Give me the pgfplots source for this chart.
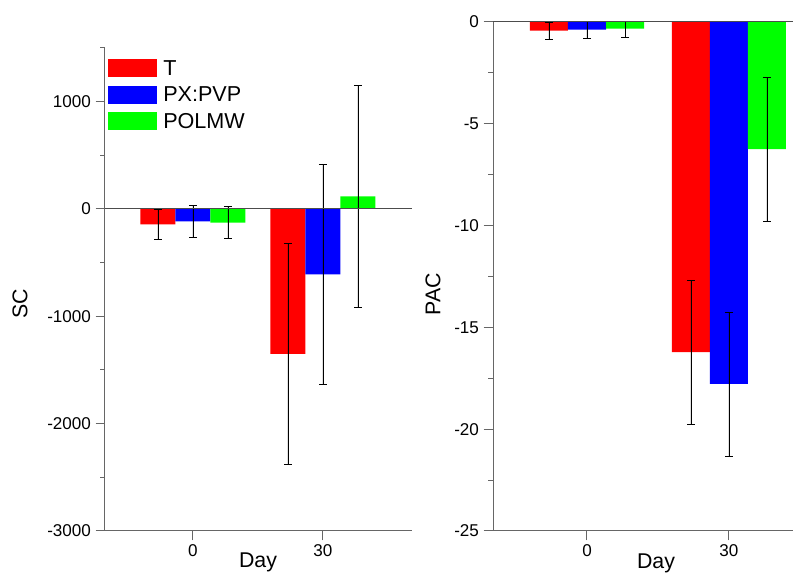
\documentclass[border=0pt]{standalone}
\usepackage{fontspec}
\setmainfont{Liberation Sans}
\usepackage{pgfplots}
\usepackage{pgfplotstable}
\pgfplotsset{compat=1.18}

% x: 0 = day 0, 1 = day 30
\pgfplotstableread{
x y e
0 -143 143
1 -1350 1030
}\scT
\pgfplotstableread{
x y e
0 -116 146
1 -608 1028
}\scPX
\pgfplotstableread{
x y e
0 -126 147
1 118 1033
}\scPOL
\pgfplotstableread{
x y e
0 -0.43 0.42
1 -16.22 3.53
}\pacT
\pgfplotstableread{
x y e
0 -0.38 0.42
1 -17.78 3.54
}\pacPX
\pgfplotstableread{
x y e
0 -0.33 0.45
1 -6.25 3.53
}\pacPOL

\pgfplotsset{
  panel/.style={
    scale only axis,
    axis x line=bottom, axis y line=left,
    axis line style={-, black!60, line width=0.75pt},
    tick style={black!60, line width=0.75pt},
    tick align=outside,
    major tick length=7pt, minor tick length=3.5pt,
    xtick={0,1}, xticklabels={0,30},
    tick label style={font=\fontsize{12.8}{14}\selectfont},
    /pgf/number format/assume math mode=true,
    /pgf/number format/1000 sep={},
    scaled y ticks=false,
    ybar,
  },
  errs/.style={
    error bars/.cd, y dir=both, y explicit,
    error bar style={black, line width=0.6pt},
    error mark options={rotate=90, black, mark size=3pt, line width=0.6pt},
  },
}

\begin{document}
\begin{tikzpicture}
\path[use as bounding box] (0pt,0pt) rectangle (594.75pt,430.5pt);

% left panel: SC
\begin{axis}[panel,
  at={(78.75pt,32.25pt)}, anchor=south west,
  width=230.25pt, height=362.25pt,
  xmin=-0.677, xmax=1.685, ymin=-3000, ymax=1500,
  ytick={-3000,-2000,-1000,0,1000},
  minor ytick={-2500,-1500,-500,500,1500},
  bar width=26.25pt,
  legend style={at={(0.0098,0.977)}, anchor=north west, draw=none, fill=none,
    inner sep=0pt, row sep=6.4pt, column sep=4.5pt,
    font=\fontsize{16.2}{18}\selectfont,
    nodes={inner sep=0pt, anchor=base west}},
  legend cell align=left,
  legend image code/.code={\fill[#1] (0pt,-1.5pt) rectangle (36.75pt,12pt);},
]
\addplot[draw=none, fill={rgb,255:red,255;green,0;blue,0}, bar shift=-26.25pt, errs]
  table[x=x, y=y, y error=e] {\scT};
\addlegendentry{T}
\addplot[draw=none, fill={rgb,255:red,0;green,0;blue,255}, bar shift=0pt, errs]
  table[x=x, y=y, y error=e] {\scPX};
\addlegendentry{PX:PVP}
\addplot[draw=none, fill={rgb,255:red,0;green,255;blue,0}, bar shift=26.25pt, errs]
  table[x=x, y=y, y error=e] {\scPOL};
\addlegendentry{POLMW}
\draw[black!70, line width=0.75pt] ({rel axis cs:0,0} |- {axis cs:0,0}) -- ({rel axis cs:1,0} |- {axis cs:0,0});
\end{axis}

% right panel: PAC
\begin{axis}[panel,
  at={(369.75pt,32.25pt)}, anchor=south west,
  width=244.5pt, height=381.75pt,
  xmin=-0.662, xmax=1.634, ymin=-25, ymax=0,
  ytick={-25,-20,-15,-10,-5,0},
  minor ytick={-22.5,-17.5,-12.5,-7.5,-2.5},
  bar width=28.5pt,
]
\addplot[draw=none, fill={rgb,255:red,255;green,0;blue,0}, bar shift=-28.5pt, errs]
  table[x=x, y=y, y error=e] {\pacT};
\addplot[draw=none, fill={rgb,255:red,0;green,0;blue,255}, bar shift=0pt, errs]
  table[x=x, y=y, y error=e] {\pacPX};
\addplot[draw=none, fill={rgb,255:red,0;green,255;blue,0}, bar shift=28.5pt, errs]
  table[x=x, y=y, y error=e] {\pacPOL};
\draw[black!70, line width=0.75pt] (rel axis cs:0,1) -- (rel axis cs:1,1);
\end{axis}

\node[font=\fontsize{16}{18}\selectfont, anchor=base] at (193.5pt,4.5pt) {Day};
\node[font=\fontsize{16}{18}\selectfont, anchor=base] at (492pt,3.8pt) {Day};
\node[font=\fontsize{16}{18}\selectfont, rotate=90] at (15pt,202.5pt) {SC};
\node[font=\fontsize{16}{18}\selectfont, rotate=90] at (324.75pt,210pt) {PAC};
\end{tikzpicture}
\end{document}
